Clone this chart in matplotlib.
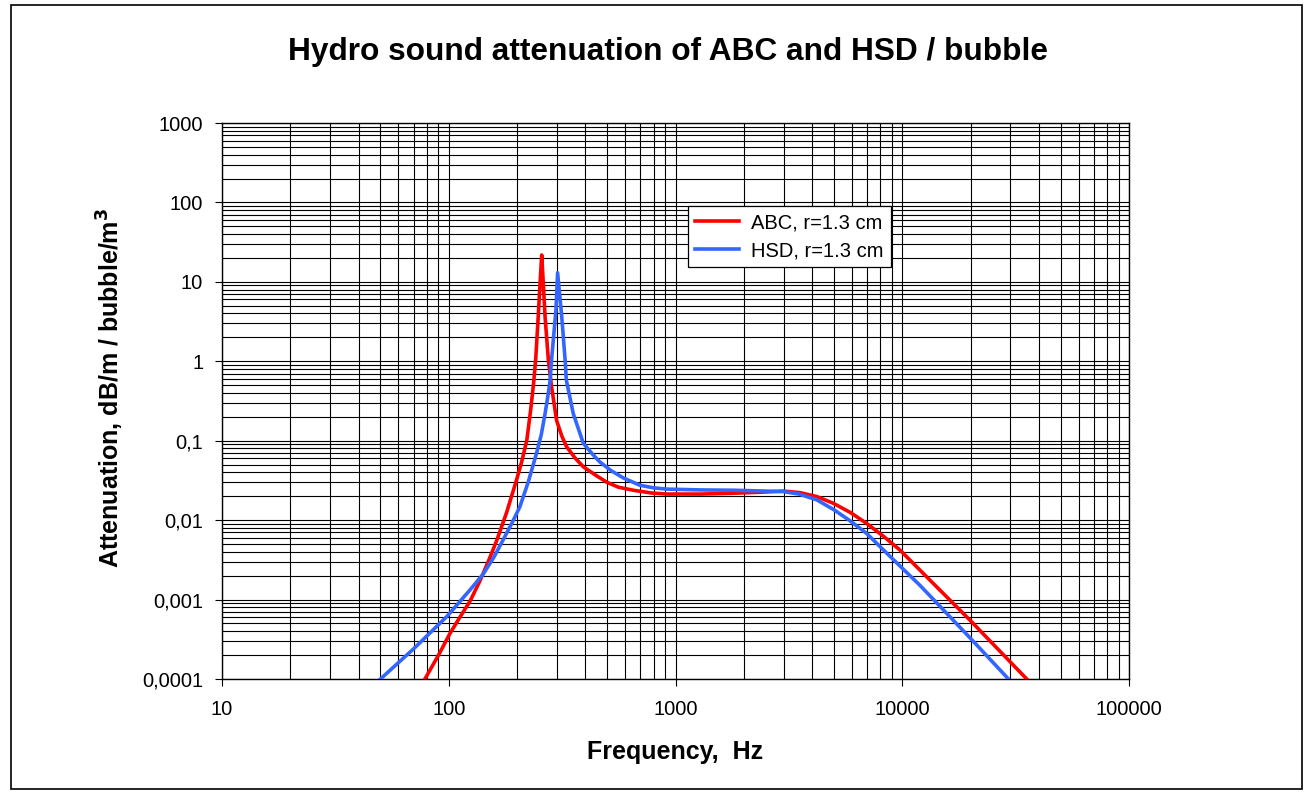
import matplotlib
matplotlib.use("Agg")
import matplotlib.pyplot as plt
import matplotlib.ticker as ticker
from matplotlib.patches import Rectangle

plt.rcParams['font.family'] = ['Liberation Sans', 'DejaVu Sans']

# ABC, r=1.3 cm  (frequency Hz, attenuation dB/m/bubble/m3)
abc_freq = [78.5, 91, 101, 112, 124, 137, 150, 163, 180, 199, 210, 221, 230,
            237, 242, 248, 253, 257, 261, 266, 275, 284, 299, 315, 331, 360,
            392, 450, 498, 560, 651, 780, 914, 1300, 1800, 2400, 3000, 3540,
            4200, 4966, 5900, 6966, 8300, 9770, 14000, 19900, 35400]
abc_att = [0.0001, 0.00021, 0.00037, 0.0006, 0.00095, 0.0017, 0.0031, 0.0056,
           0.0125, 0.032, 0.055, 0.102, 0.25, 0.55, 1.1, 3.6, 10, 21.8, 10,
           3.6, 1.04, 0.48, 0.18, 0.115, 0.084, 0.061, 0.047, 0.036, 0.030,
           0.026, 0.0238, 0.022, 0.0213, 0.0213, 0.0218, 0.0225, 0.0232,
           0.0222, 0.0198, 0.0163, 0.0125, 0.0091, 0.0062, 0.0042, 0.0015,
           0.00055, 0.0001]

# HSD, r=1.3 cm
hsd_freq = [50, 70, 98, 124, 142, 158, 174, 190, 206, 224, 244, 256, 266, 275,
            280, 284, 297, 302, 315, 326, 330, 354, 392, 430, 464, 520, 589,
            697, 800, 914, 1300, 1800, 2400, 2985, 3500, 4200, 5000, 5890,
            6966, 8830, 12000, 19900, 29400]
hsd_att = [0.0001, 0.00024, 0.00061, 0.00132, 0.0021, 0.0034, 0.0057, 0.0092,
           0.0148, 0.030, 0.070, 0.12, 0.22, 0.40, 0.58, 1.04, 4.4, 13, 3.64,
           1.04, 0.58, 0.22, 0.093, 0.068, 0.054, 0.042, 0.034, 0.0275, 0.0255,
           0.0246, 0.024, 0.0238, 0.0233, 0.0229, 0.0213, 0.018, 0.0135,
           0.0098, 0.0068, 0.0035, 0.0015, 0.00033, 0.0001]

ytick_vals = [0.0001, 0.001, 0.01, 0.1, 1, 10, 100, 1000]
ytick_labels = ['0,0001', '0,001', '0,01', '0,1', '1', '10', '100', '1000']
xtick_vals = [10, 100, 1000, 10000, 100000]
xtick_labels = ['10', '100', '1000', '10000', '100000']

W, H = 1306, 792
fig = plt.figure(figsize=(W / 100, H / 100), dpi=100)
ax = fig.add_axes([222 / W, 1 - 679 / H, (1129 - 222) / W, (679 - 123) / H])

ax.set_xscale('log')
ax.set_yscale('log')
ax.set_xlim(10, 100000)
ax.set_ylim(0.0001, 1000)

ax.plot(abc_freq, abc_att, color='#FF0000', lw=2.6, label='ABC, r=1.3 cm', zorder=3)
ax.plot(hsd_freq, hsd_att, color='#3366FF', lw=2.6, label='HSD, r=1.3 cm', zorder=3)

ax.xaxis.set_major_locator(ticker.FixedLocator(xtick_vals))
ax.xaxis.set_major_formatter(ticker.FixedFormatter(xtick_labels))
ax.yaxis.set_major_locator(ticker.FixedLocator(ytick_vals))
ax.yaxis.set_major_formatter(ticker.FixedFormatter(ytick_labels))
ax.xaxis.set_minor_locator(ticker.LogLocator(base=10, subs=range(2, 10), numticks=20))
ax.yaxis.set_minor_locator(ticker.LogLocator(base=10, subs=range(2, 10), numticks=20))
ax.xaxis.set_minor_formatter(ticker.NullFormatter())
ax.yaxis.set_minor_formatter(ticker.NullFormatter())

ax.grid(True, which='both', color='black', lw=0.8)
ax.set_axisbelow(True)
ax.tick_params(which='major', direction='out', length=5, width=0.8, labelsize=14.5, pad=8.5)
ax.tick_params(which='minor', length=0)
ax.tick_params(axis='x', pad=10)
for s in ax.spines.values():
    s.set_color('black')
    s.set_linewidth(1)

leg = ax.legend(loc='upper left', bbox_to_anchor=((688 - 222) / (1129 - 222), 1 - (206 - 123) / (679 - 123)),
                fontsize=14.5, frameon=True, fancybox=False, framealpha=1, edgecolor='black',
                borderpad=0.35, handlelength=2.2, handletextpad=0.6, labelspacing=0.45, borderaxespad=0)
leg.get_frame().set_linewidth(0.9)

fig.text(668 / W, 1 - 60 / H, 'Hydro sound attenuation of ABC and HSD / bubble',
         ha='center', va='baseline', fontsize=22.8, fontweight='bold')
fig.text(675 / W, 1 - 759 / H, 'Frequency,  Hz', ha='center', va='baseline',
         fontsize=18, fontweight='bold')
fig.text(110 / W, 1 - 388 / H, 'Attenuation, dB/m / bubble/m$^\\mathbf{3}$', ha='center', va='center',
         rotation=90, fontsize=18, fontweight='bold')

fig.patches.append(Rectangle((11 / W, 1 - 789 / H), (1302 - 11) / W, (789 - 5) / H,
                             transform=fig.transFigure, fill=False, edgecolor='black', lw=1.2))

fig.savefig('out.png', dpi=100)
